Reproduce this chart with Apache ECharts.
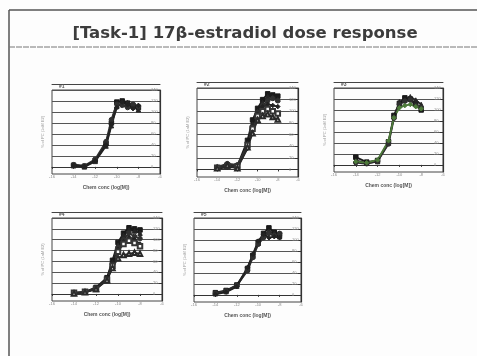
<!DOCTYPE html>
<html>
<head>
<meta charset="utf-8">
<script src="https://cdn.jsdelivr.net/npm/echarts@6/dist/echarts.min.js"></script>
<style>
  html, body { margin: 0; padding: 0; background: #fdfdfd; }
  #main { width: 477px; height: 356px; }
</style>
</head>
<body>
<div id="main"></div>
<script>
// concentration, log[M]
var conc = [-14, -13, -12, -11, -10.5, -10, -9.5, -9, -8.5, -8];
var yTicks = [0, 20, 40, 60, 80, 100, 120, 140];

// % of PC per run, one array per curve
var run1 = [
  [3, 1, 12, 42, 80, 118, 120, 116, 112, 108],
  [2, 0, 10, 38, 75, 110, 115, 117, 110, 104],
  [4, 2, 14, 46, 86, 114, 112, 108, 114, 110],
  [3, 1, 11, 40, 78, 108, 118, 113, 106, 112]
];
var run2 = [
  [3, 8, 6, 50, 85, 105, 120, 130, 128, 126],
  [2, 5, 4, 44, 78, 100, 115, 125, 124, 120],
  [4, 10, 8, 40, 72, 98, 110, 118, 122, 118],
  [1, 4, 3, 36, 68, 95, 108, 112, 110, 108],
  [3, 6, 5, 42, 70, 92, 100, 104, 100, 96],
  [2, 7, 2, 38, 62, 85, 92, 95, 90, 86]
];
var run3 = [
  [14, 5, 8, 42, 90, 112, 122, 120, 112, 100],
  [8, 3, 6, 40, 88, 115, 118, 124, 118, 110],
  [4, 2, 7, 38, 85, 110, 116, 118, 108, 104],
  [6, 4, 9, 44, 86, 104, 108, 110, 106, 102]
];
var run4 = [
  [2, 4, 12, 30, 62, 95, 112, 122, 120, 118],
  [1, 3, 10, 28, 58, 90, 108, 118, 116, 112],
  [2, 4, 11, 27, 55, 86, 100, 112, 106, 102],
  [1, 3, 10, 29, 57, 82, 96, 104, 100, 92],
  [2, 4, 9, 26, 52, 78, 92, 98, 94, 88],
  [1, 3, 9, 25, 48, 66, 72, 74, 76, 74]
];
var run5 = [
  [4, 8, 18, 48, 72, 96, 112, 122, 114, 110],
  [2, 6, 16, 46, 70, 94, 108, 116, 112, 106],
  [3, 7, 17, 44, 68, 92, 104, 112, 108, 112],
  [1, 5, 15, 50, 74, 98, 110, 104, 106, 104]
];
var runNames = ['#1', '#2', '#3', '#4', '#5'];
var runs = [run1, run2, run3, run4, run5];

// panel boxes on the slide
var boxes = [
  { left: 52, top: 90, width: 108, height: 84 },
  { left: 197, top: 88, width: 101, height: 89 },
  { left: 334, top: 88, width: 109, height: 84 },
  { left: 52, top: 218, width: 110, height: 83 },
  { left: 194, top: 218, width: 107, height: 84 }
];

var symbols = ['rect', 'triangle', 'circle', 'diamond', 'emptyRect', 'emptyTriangle'];
var lineColors = ['#1a1a1a', '#262626', '#303030', '#222', '#363636', '#2a2a2a'];

var grids = [], xAxes = [], yAxes = [], series = [], titles = [], graphics = [];

titles.push({
  text: '[Task-1] 17\u03b2-estradiol dose response',
  left: 240, top: 20, textAlign: 'center',
  textStyle: { fontFamily: 'DejaVu Sans', fontWeight: 'bold', fontSize: 16.5, color: '#3c3c3c' }
});

boxes.forEach(function (b, i) {
  grids.push({
    left: b.left, top: b.top, width: b.width, height: b.height,
    show: true, borderColor: '#444', borderWidth: 1, backgroundColor: 'transparent'
  });
  xAxes.push({
    gridIndex: i, type: 'value', min: -16, max: -6, interval: 2,
    name: 'Chem conc (log[M])', nameLocation: 'middle', nameGap: 11,
    nameTextStyle: { fontSize: 5, fontWeight: 'bold', color: '#555' },
    axisLine: { lineStyle: { color: '#333', width: 1.2 } },
    axisTick: { show: true, length: 2, lineStyle: { color: '#333' } },
    axisLabel: { fontSize: 4, color: '#888', margin: 1 },
    splitLine: { show: false }
  });
  yAxes.push({
    gridIndex: i, type: 'value', min: -13, max: 140, position: 'right',
    axisLine: { show: true, lineStyle: { color: '#333', width: 1.2 } },
    axisTick: { show: true, inside: true, length: 3, customValues: yTicks, lineStyle: { color: '#333' } },
    axisLabel: { fontSize: 4, color: '#888', margin: -9, customValues: yTicks },
    splitLine: { show: true, lineStyle: { color: '#555', width: 1 } }
  });
  titles.push({
    text: runNames[i], left: b.left + 2, top: b.top - 11,
    textStyle: { fontSize: 5, fontWeight: 'bold', color: '#555' }
  });
  graphics.push({
    type: 'text', x: b.left - 9, y: b.top + b.height / 2, rotation: Math.PI / 2,
    style: { text: '% of PC (1nM E2)', fontSize: 4, fill: '#999', align: 'center', verticalAlign: 'middle' }
  });
  runs[i].forEach(function (vals, k) {
    var col = lineColors[k];
    if (i === 2 && k === 3) col = '#4d7a3a';
    series.push({
      type: 'line', xAxisIndex: i, yAxisIndex: i,
      data: conc.map(function (c, j) { return [c, vals[j]]; }),
      symbol: symbols[k], symbolSize: 4.5, showSymbol: true,
      lineStyle: { color: col, width: 1.8 },
      itemStyle: { color: col, borderColor: col },
      animation: false, silent: true
    });
  });
});

// lower frame line under each x axis
boxes.forEach(function (b, i) {
  xAxes.push({
    gridIndex: i, type: 'value', min: -16, max: -6, offset: 6,
    axisLine: { lineStyle: { color: '#444', width: 1 } },
    axisTick: { show: false }, axisLabel: { show: false }, splitLine: { show: false }
  });
});

// slide frame and title rule
graphics.push(
  { type: 'line', shape: { x1: 9, y1: 10, x2: 477, y2: 10 }, style: { stroke: '#555', lineWidth: 1.5 } },
  { type: 'line', shape: { x1: 9, y1: 10, x2: 9, y2: 356 }, style: { stroke: '#555', lineWidth: 1.5 } },
  { type: 'line', shape: { x1: 9, y1: 47, x2: 477, y2: 47 }, style: { stroke: '#777', lineWidth: 1, lineDash: [6, 1] } }
);

var chart = echarts.init(document.getElementById('main'), null, { renderer: 'canvas' });
chart.setOption({
  backgroundColor: '#fdfdfd',
  animation: false,
  title: titles,
  grid: grids,
  xAxis: xAxes,
  yAxis: yAxes,
  series: series,
  graphic: graphics
});
</script>
</body>
</html>
